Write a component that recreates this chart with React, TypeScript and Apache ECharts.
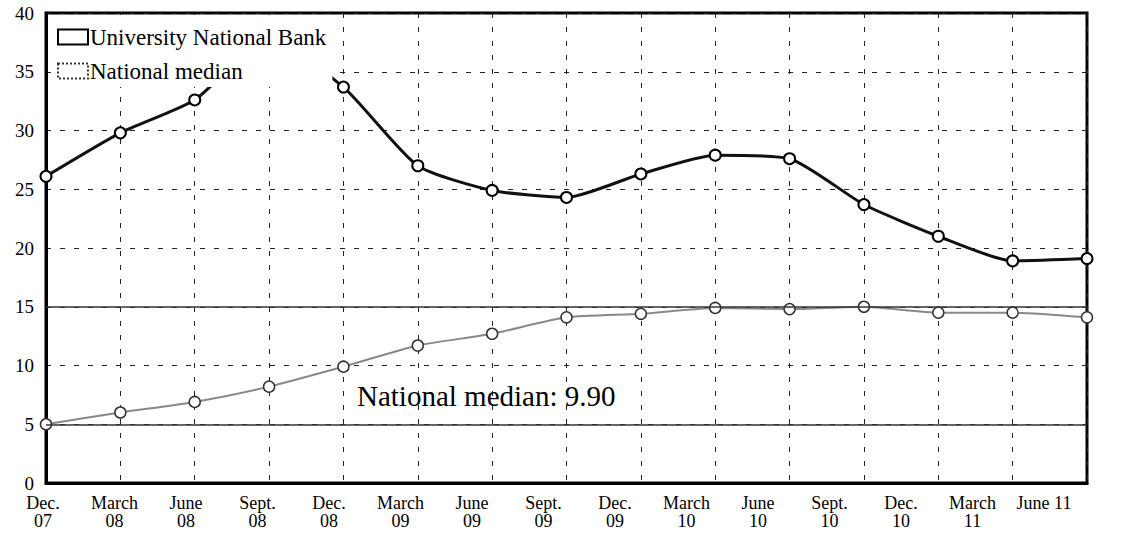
import React, { useEffect, useRef } from "react";
import * as echarts from "echarts";

const categories = [
  "Dec.\n07", "March\n08", "June\n08", "Sept.\n08", "Dec.\n08",
  "March\n09", "June\n09", "Sept.\n09", "Dec.\n09", "March\n10",
  "June\n10", "Sept.\n10", "Dec.\n10", "March\n11", "June 11",
];
const bankValues = [26.1, 29.8, 32.6, 37.8, 33.7, 27.0, 24.9, 24.3, 26.3, 27.9, 27.6, 23.7, 21.0, 18.9, 19.1];
const medianValues = [5.0, 6.0, 6.9, 8.2, 9.9, 11.7, 12.7, 14.1, 14.4, 14.9, 14.8, 15.0, 14.5, 14.5, 14.1];
const referenceLines = [15, 5];
const yTicks = { min: 0, max: 40, interval: 5 };
const seriesNames = ["University National Bank", "National median"];
const annotationText = "National median: 9.90";

const SERIF = '"Liberation Serif", "Times New Roman", serif';

export default function App() {
  const ref = useRef<HTMLDivElement>(null);
  useEffect(() => {
    document.body.style.margin = "0";
    const chart = echarts.init(ref.current!, null, { renderer: "svg" });
    const dash = { color: "#222", width: 1, type: [5, 9] };
    chart.setOption({
      animation: false,
      backgroundColor: "#fff",
      grid: [
        {
          left: 46, right: 36, top: 13, bottom: 60,
          show: true, borderColor: "#000", borderWidth: 3, backgroundColor: "transparent",
        },
        { left: 43, right: 79, top: 13, bottom: 60, show: false },
      ],
      legend: {
        orient: "vertical",
        left: 51, top: 15,
        backgroundColor: "#fff",
        padding: [10, 6, 4, 6],
        itemWidth: 30, itemHeight: 15, itemGap: 10,
        icon: "rect",
        textStyle: { fontFamily: SERIF, fontSize: 23, lineHeight: 24, color: "#000", padding: [0, 0, 0, -3] },
        data: [
          { name: seriesNames[0], itemStyle: { color: "#fff", borderColor: "#000", borderWidth: 2 } },
          { name: seriesNames[1], itemStyle: { color: "#fff", borderColor: "#333", borderWidth: 2, borderType: "dotted" } },
        ],
      },
      xAxis: [
        {
          type: "category",
          gridIndex: 0,
          data: categories,
          boundaryGap: false,
          axisLine: { lineStyle: { color: "#000", width: 3 } },
          axisTick: { show: false },
          axisLabel: { show: false },
          splitLine: { show: true, lineStyle: dash },
        },
        {
          type: "category",
          gridIndex: 1,
          data: categories,
          boundaryGap: false,
          axisLine: { show: false },
          axisTick: { show: false },
          splitLine: { show: false },
          axisLabel: {
            interval: 0, fontFamily: SERIF, fontSize: 18, lineHeight: 18, color: "#000", margin: 11,
          },
        },
      ],
      yAxis: [
        {
          type: "value",
          gridIndex: 0,
          min: yTicks.min, max: yTicks.max, interval: yTicks.interval,
          axisLine: { show: true, lineStyle: { color: "#000", width: 3 } },
          axisTick: { show: false },
          axisLabel: { fontFamily: SERIF, fontSize: 19, color: "#000", margin: 12 },
          splitLine: { show: true, lineStyle: dash },
        },
        {
          type: "value",
          gridIndex: 1,
          min: yTicks.min, max: yTicks.max, interval: yTicks.interval,
          show: false,
          splitLine: { show: false },
        },
      ],
      series: [
        {
          name: seriesNames[0],
          type: "line",
          data: bankValues,
          smooth: 0.2,
          symbol: "circle",
          symbolSize: 11,
          lineStyle: { color: "#111", width: 3 },
          itemStyle: { color: "#fff", borderColor: "#000", borderWidth: 2 },
          z: 3,
        },
        {
          name: seriesNames[1],
          type: "line",
          data: medianValues,
          smooth: 0.2,
          symbol: "circle",
          symbolSize: 11,
          lineStyle: { color: "#888", width: 2 },
          itemStyle: { color: "#fff", borderColor: "#333", borderWidth: 1.5 },
          markLine: {
            silent: true,
            symbol: "none",
            label: { show: false },
            lineStyle: { color: "#333", width: 1.5, type: "solid" },
            data: referenceLines.map((v) => ({ yAxis: v })),
          },
          z: 3,
        },
      ],
      graphic: [
        {
          type: "text",
          left: 357,
          top: 381,
          z: 10,
          style: { text: annotationText, fontFamily: SERIF, fontSize: 29, fill: "#000" },
        },
      ],
    });
    return () => chart.dispose();
  }, []);
  return <div ref={ref} style={{ width: 1123, height: 543, position: "absolute", left: 0, top: 0 }} />;
}
